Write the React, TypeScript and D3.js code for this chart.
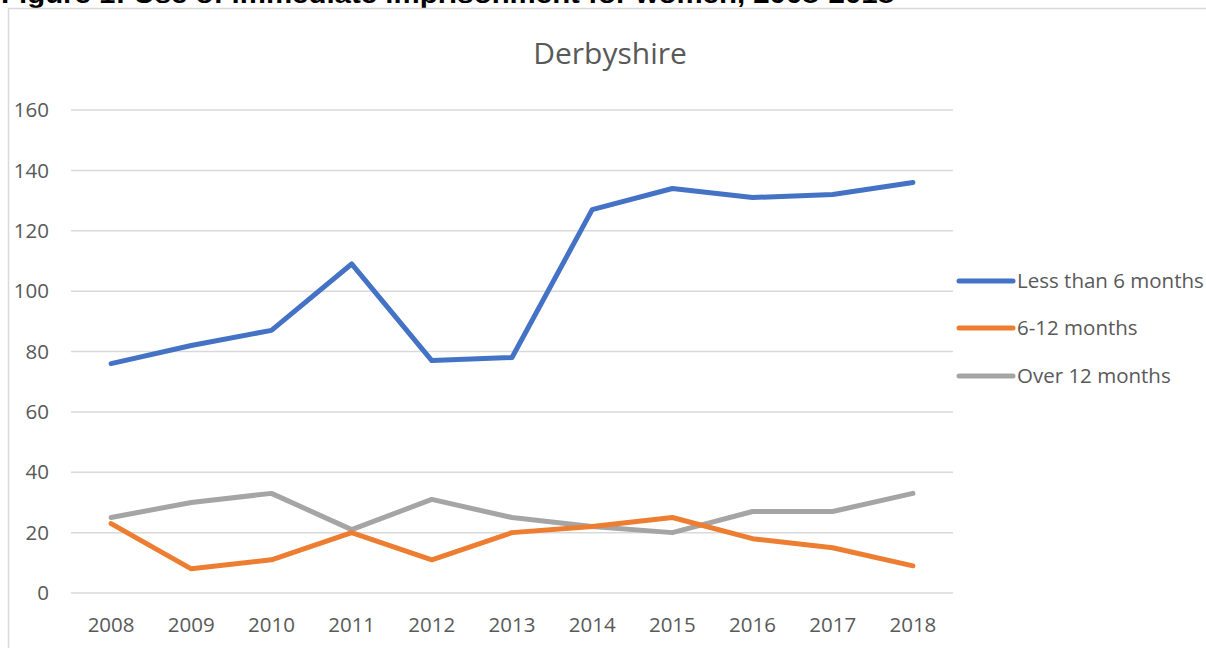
import React, { useRef, useEffect } from 'react'
import * as d3 from 'd3'

// chart data
const years = ['2008', '2009', '2010', '2011', '2012', '2013', '2014', '2015', '2016', '2017', '2018']
const lessThan6 = [76, 82, 87, 109, 77, 78, 127, 134, 131, 132, 136]
const sixTo12 = [23, 8, 11, 20, 11, 20, 22, 25, 18, 15, 9]
const over12 = [25, 30, 33, 21, 31, 25, 22, 20, 27, 27, 33]
const yTicks = [0, 20, 40, 60, 80, 100, 120, 140, 160]

const seriesNames = ['Less than 6 months', '6-12 months', 'Over 12 months']
const seriesColors = ['#4472C4', '#ED7D31', '#A5A5A5']

const App: React.FC = () => {
  const svgRef = useRef<SVGSVGElement | null>(null)

  useEffect(() => {
    const svg = d3.select(svgRef.current)
    svg.selectAll('*').remove()

    const width = 1206
    const height = 648
    const plot = { left: 71, right: 953, top: 110, bottom: 593 }
    const font = '"Open Sans", "Noto Sans", sans-serif'
    const textColor = '#595959'

    svg.attr('width', width).attr('height', height)

    // figure caption, cut off by the top of the page (as in the source image)
    svg
      .append('text')
      .attr('x', 1)
      .attr('y', 3)
      .attr('font-family', '"Liberation Sans", Arial, sans-serif')
      .attr('font-weight', 'bold')
      .attr('font-size', 25)
      .attr('textLength', 893)
      .attr('lengthAdjust', 'spacingAndGlyphs')
      .attr('fill', '#000')
      .text('Figure 1: Use of immediate imprisonment for women, 2008-2018')

    // chart frame
    svg
      .append('rect')
      .attr('x', 8.5)
      .attr('y', 8.5)
      .attr('width', 1220)
      .attr('height', 700)
      .attr('fill', '#fff')
      .attr('stroke', '#d9d9d9')
      .attr('stroke-width', 1.5)

    const x = d3.scaleBand().domain(years).range([plot.left, plot.right])

    const y = d3.scaleLinear().domain([0, 160]).range([plot.bottom, plot.top])

    // gridlines
    svg
      .append('g')
      .selectAll('line')
      .data(yTicks)
      .enter()
      .append('line')
      .attr('x1', plot.left)
      .attr('x2', plot.right)
      .attr('y1', (d) => y(d))
      .attr('y2', (d) => y(d))
      .attr('stroke', '#d9d9d9')
      .attr('stroke-width', 1.5)

    // y tick labels
    svg
      .append('g')
      .selectAll('text')
      .data(yTicks)
      .enter()
      .append('text')
      .attr('x', 49)
      .attr('y', (d) => y(d))
      .attr('dy', '0.35em')
      .attr('text-anchor', 'end')
      .attr('font-family', font)
      .attr('font-size', 20.5)
      .attr('fill', textColor)
      .text((d) => d)

    // x tick labels
    svg
      .append('g')
      .selectAll('text')
      .data(years)
      .enter()
      .append('text')
      .attr('x', (d) => x(d)! + x.bandwidth() / 2)
      .attr('y', 632)
      .attr('text-anchor', 'middle')
      .attr('font-family', font)
      .attr('font-size', 20.5)
      .attr('fill', textColor)
      .text((d) => d)

    // chart title
    svg
      .append('text')
      .attr('x', 610)
      .attr('y', 64)
      .attr('text-anchor', 'middle')
      .attr('font-family', font)
      .attr('font-size', 30)
      .attr('fill', textColor)
      .text('Derbyshire')

    const line = d3
      .line<number>()
      .x((_, i) => x(years[i])! + x.bandwidth() / 2)
      .y((d) => y(d))

    const allSeries = [lessThan6, sixTo12, over12]

    // draw in reverse so the blue line sits on top
    allSeries
      .map((s, i) => ({ s, i }))
      .reverse()
      .forEach(({ s, i }) => {
        svg
          .append('path')
          .datum(s)
          .attr('d', line)
          .attr('fill', 'none')
          .attr('stroke', seriesColors[i])
          .attr('stroke-width', 5)
          .attr('stroke-linejoin', 'round')
          .attr('stroke-linecap', 'round')
      })

    // legend
    const legendY = [281, 328, 376]
    const legend = svg
      .append('g')
      .selectAll('g')
      .data(seriesNames)
      .enter()
      .append('g')
      .attr('transform', (_, i) => `translate(0,${legendY[i]})`)

    legend
      .append('line')
      .attr('x1', 959)
      .attr('x2', 1013)
      .attr('stroke', (_, i) => seriesColors[i])
      .attr('stroke-width', 5)
      .attr('stroke-linecap', 'round')

    legend
      .append('text')
      .attr('x', 1017)
      .attr('dy', '0.35em')
      .attr('font-family', font)
      .attr('font-size', 20.5)
      .attr('fill', textColor)
      .text((d) => d)
  }, [])

  return (
    <svg
      ref={svgRef}
      style={{ position: 'absolute', left: 0, top: 0, display: 'block' }}
    ></svg>
  )
}

export default App
